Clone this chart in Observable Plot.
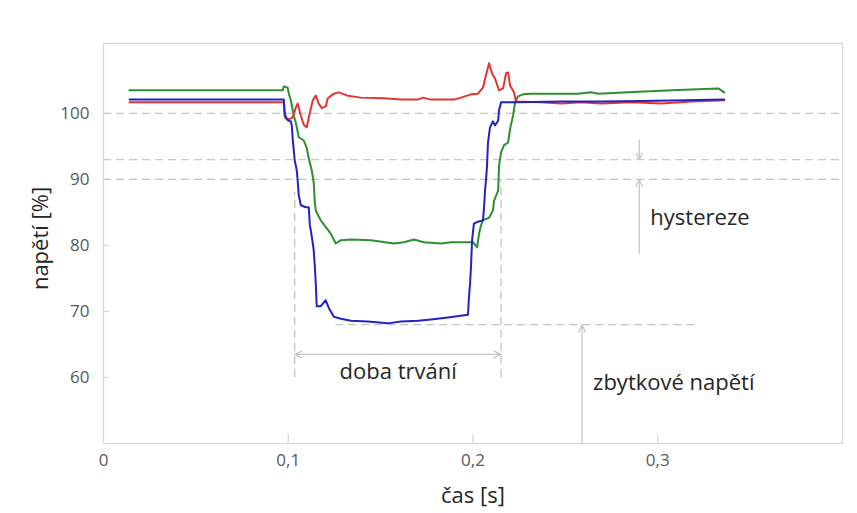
<!DOCTYPE html>
<html lang="cs">
<head>
<meta charset="utf-8">
<script src="https://cdn.jsdelivr.net/npm/d3@7"></script>
<script src="https://cdn.jsdelivr.net/npm/@observablehq/plot@0.6"></script>
<style>
  html, body { margin: 0; padding: 0; background: #fff; overflow: hidden; }
  #wrap { position: relative; width: 857px; height: 513px; }
  #border { position: absolute; left: 8px; top: 11px; width: 900px; height: 600px; border: 1px solid #d9d9d9; }
  #chart { position: absolute; left: 0; top: 0; }
</style>
</head>
<body>
<div id="wrap"><div id="border"></div><div id="chart"></div></div>
<script>
// Napětí během krátkodobého poklesu – tři fáze, čas [s] vs. napětí [%]
const phaseRed = [
  [0.0141,101.7],[0.0976,101.7],[0.0981,99.4],[0.1003,99.1],[0.1024,99.4],[0.1041,100.9],
  [0.1051,101.5],[0.1068,99.7],[0.1084,98.3],[0.1100,97.9],[0.1111,99.4],[0.1133,102.0],
  [0.1149,102.7],[0.1165,101.5],[0.1182,100.8],[0.1203,101.1],[0.1214,102.3],[0.1247,103.0],
  [0.1274,103.2],[0.1322,102.7],[0.1393,102.4],[0.1518,102.3],[0.1610,102.1],[0.1702,102.1],
  [0.1729,102.4],[0.1772,102.1],[0.1897,102.1],[0.1935,102.4],[0.1989,102.9],[0.2027,103.0],
  [0.2054,103.9],[0.2070,105.8],[0.2087,107.6],[0.2103,106.1],[0.2119,105.3],[0.2141,103.5],
  [0.2163,103.8],[0.2179,106.1],[0.2190,106.2],[0.2201,104.2],[0.2222,103.2],[0.2233,101.8],
  [0.2369,101.7],[0.2477,101.5],[0.2585,101.7],[0.2694,101.5],[0.2856,101.7],[0.3019,101.5],
  [0.3182,101.8],[0.3360,102.0]
];

const phaseGreen = [
  [0.0141,103.5],[0.0970,103.5],[0.0976,104.1],[0.0997,103.9],[0.1003,103.0],[0.1014,102.0],
  [0.1030,99.7],[0.1041,98.6],[0.1057,96.4],[0.1084,95.9],[0.1100,94.8],[0.1111,93.2],
  [0.1127,91.4],[0.1138,89.5],[0.1144,86.4],[0.1149,85.3],[0.1176,83.8],[0.1230,81.8],
  [0.1257,80.3],[0.1285,80.8],[0.1339,80.9],[0.1447,80.8],[0.1572,80.3],[0.1626,80.5],
  [0.1680,80.9],[0.1734,80.5],[0.1827,80.3],[0.1881,80.5],[0.2000,80.5],[0.2022,79.7],
  [0.2033,81.8],[0.2043,83.0],[0.2054,83.8],[0.2087,84.2],[0.2108,85.3],[0.2114,86.8],
  [0.2136,88.3],[0.2141,92.1],[0.2152,94.1],[0.2168,95.2],[0.2190,95.6],[0.2201,97.7],
  [0.2217,99.7],[0.2228,101.7],[0.2244,102.6],[0.2271,102.9],[0.2314,103.0],[0.2569,103.0],
  [0.2640,103.2],[0.2678,103.0],[0.2894,103.3],[0.3144,103.6],[0.3328,103.8],[0.3360,103.2]
];

const phaseBlue = [
  [0.0141,102.1],[0.0976,102.1],[0.0981,100.0],[0.0992,99.1],[0.1003,98.9],[0.1014,98.8],
  [0.1019,98.2],[0.1024,96.2],[0.1030,94.4],[0.1035,92.9],[0.1046,91.4],[0.1051,89.8],
  [0.1057,87.6],[0.1068,86.1],[0.1095,85.8],[0.1111,85.8],[0.1117,83.0],[0.1122,82.3],
  [0.1133,80.3],[0.1138,79.2],[0.1144,76.7],[0.1149,74.2],[0.1154,70.8],[0.1176,70.8],
  [0.1203,71.7],[0.1220,70.5],[0.1247,69.2],[0.1285,68.9],[0.1339,68.6],[0.1431,68.5],
  [0.1539,68.2],[0.1610,68.5],[0.1702,68.6],[0.1772,68.8],[0.1864,69.1],[0.1973,69.5],
  [0.1978,72.1],[0.1984,74.2],[0.1989,76.7],[0.1995,80.8],[0.2005,83.3],[0.2027,83.6],
  [0.2054,83.8],[0.2060,85.8],[0.2065,88.3],[0.2070,89.8],[0.2076,92.1],[0.2081,95.6],
  [0.2092,97.9],[0.2108,98.8],[0.2119,98.2],[0.2136,98.9],[0.2141,100.5],[0.2152,101.7],
  [0.2244,101.7],[0.2477,101.8],[0.2694,101.8],[0.2911,101.9],[0.3144,102.0],[0.3360,102.1]
];

// Úrovně a vyznačení
const nominalLevels = [100, 93];      // jmenovité napětí, konec poklesu (hystereze)
const thresholdLevels = [90];         // práh začátku poklesu
const durationBounds = [{t: 0.1035, top: 88}, {t: 0.2152, top: 90}];
const durationBottom = 60;
const durationArrowLevel = 63.5;
const residualLevel = {v: 68, from: 0.1257, to: 0.322};
const residualArrow = {t: 0.259, from: 50};
const hysteresisArrows = [
  {t: 0.29, from: 96, to: 93},
  {t: 0.29, from: 78.8, to: 90}
];
const centeredNotes = [{t: 0.1595, v: 60.9, text: "doba trvání"}];
const leftNotes = [
  {t: 0.265, v: 59.2, text: "zbytkové napětí"},
  {t: 0.296, v: 84.1, text: "hystereze"}
];

const xTicks = [0, 0.1, 0.2, 0.3];
const yTicks = [60, 70, 80, 90, 100];
const xDomain = [0, 0.4];
const yDomain = [50, 110.6];
const commaFormat = d => String(d).replace(".", ",");

const W = 857, H = 513;
const mLeft = 103, mTop = 43, mRight = 15, mBottom = 70;
const innerW = W - mLeft - mRight, innerH = H - mTop - mBottom;

const dash = "8,5";
const annoGray = "#c4c4c4";
const durMid = (durationBounds[0].t + durationBounds[1].t) / 2;

const chart = Plot.plot({
  width: W,
  height: H,
  marginLeft: mLeft,
  marginTop: mTop,
  marginRight: mRight,
  marginBottom: mBottom,
  style: {fontFamily: "'Open Sans', sans-serif", background: "#fff"},
  x: {domain: xDomain},
  y: {domain: yDomain},
  marks: [
    Plot.frame({stroke: "#d9d9d9", strokeWidth: 1.3}),
    // vnitřní značky os
    Plot.tickX(xTicks.slice(1), {x: d => d, stroke: "#d9d9d9", strokeWidth: 1.3, insetTop: innerH - 9}),
    Plot.tickY(yTicks, {y: d => d, stroke: "#d9d9d9", strokeWidth: 1.3, insetRight: innerW - 6}),
    Plot.axisX(xTicks, {tickSize: 0, tickPadding: 10, tickFormat: commaFormat, fontSize: 17, fill: "#595959", label: null}),
    Plot.axisY(yTicks, {tickSize: 0, tickPadding: 14, fontSize: 17, fill: "#595959", label: null}),
    // přerušované úrovně
    Plot.ruleY(nominalLevels, {stroke: "#c8c8c8", strokeWidth: 1.3, strokeDasharray: dash}),
    Plot.ruleY(thresholdLevels, {stroke: "#e3b3b3", strokeWidth: 1.3, strokeDasharray: dash}),
    Plot.ruleX(durationBounds, {x: "t", y1: durationBottom, y2: "top", stroke: annoGray, strokeWidth: 1.3, strokeDasharray: dash}),
    Plot.ruleY([residualLevel], {y: "v", x1: "from", x2: "to", stroke: annoGray, strokeWidth: 1.3, strokeDasharray: dash}),
    // šipky
    Plot.arrow(durationBounds, {x1: () => durMid, x2: "t", y1: durationArrowLevel, y2: durationArrowLevel,
      stroke: annoGray, strokeWidth: 1.2, headLength: 10, headAngle: 50}),
    Plot.arrow([residualArrow], {x1: "t", x2: "t", y1: "from", y2: () => residualLevel.v,
      stroke: annoGray, strokeWidth: 1.2, headLength: 10, headAngle: 50}),
    Plot.arrow(hysteresisArrows, {x1: "t", x2: "t", y1: "from", y2: "to",
      stroke: annoGray, strokeWidth: 1.2, headLength: 10, headAngle: 50}),
    // průběhy napětí
    Plot.line(phaseGreen, {x: d => d[0], y: d => d[1], stroke: "#2f8f2f", strokeWidth: 2}),
    Plot.line(phaseRed, {x: d => d[0], y: d => d[1], stroke: "#e23434", strokeWidth: 2}),
    Plot.line(phaseBlue, {x: d => d[0], y: d => d[1], stroke: "#2323c4", strokeWidth: 2}),
    // popisky
    Plot.text(centeredNotes, {x: "t", y: "v", text: "text", textAnchor: "middle", fontSize: 22, fill: "#262626"}),
    Plot.text(leftNotes, {x: "t", y: "v", text: "text", textAnchor: "start", fontSize: 22, fill: "#262626"}),
    Plot.text(["čas [s]"], {frameAnchor: "bottom", textAnchor: "middle", lineAnchor: "middle", dy: 52, fontSize: 22, fill: "#262626"}),
    Plot.text(["napětí [%]"], {frameAnchor: "left", textAnchor: "middle", lineAnchor: "middle", dx: -63, dy: -5, rotate: -90, fontSize: 22, fill: "#262626"})
  ]
});

document.getElementById("chart").appendChild(chart);
</script>
</body>
</html>
